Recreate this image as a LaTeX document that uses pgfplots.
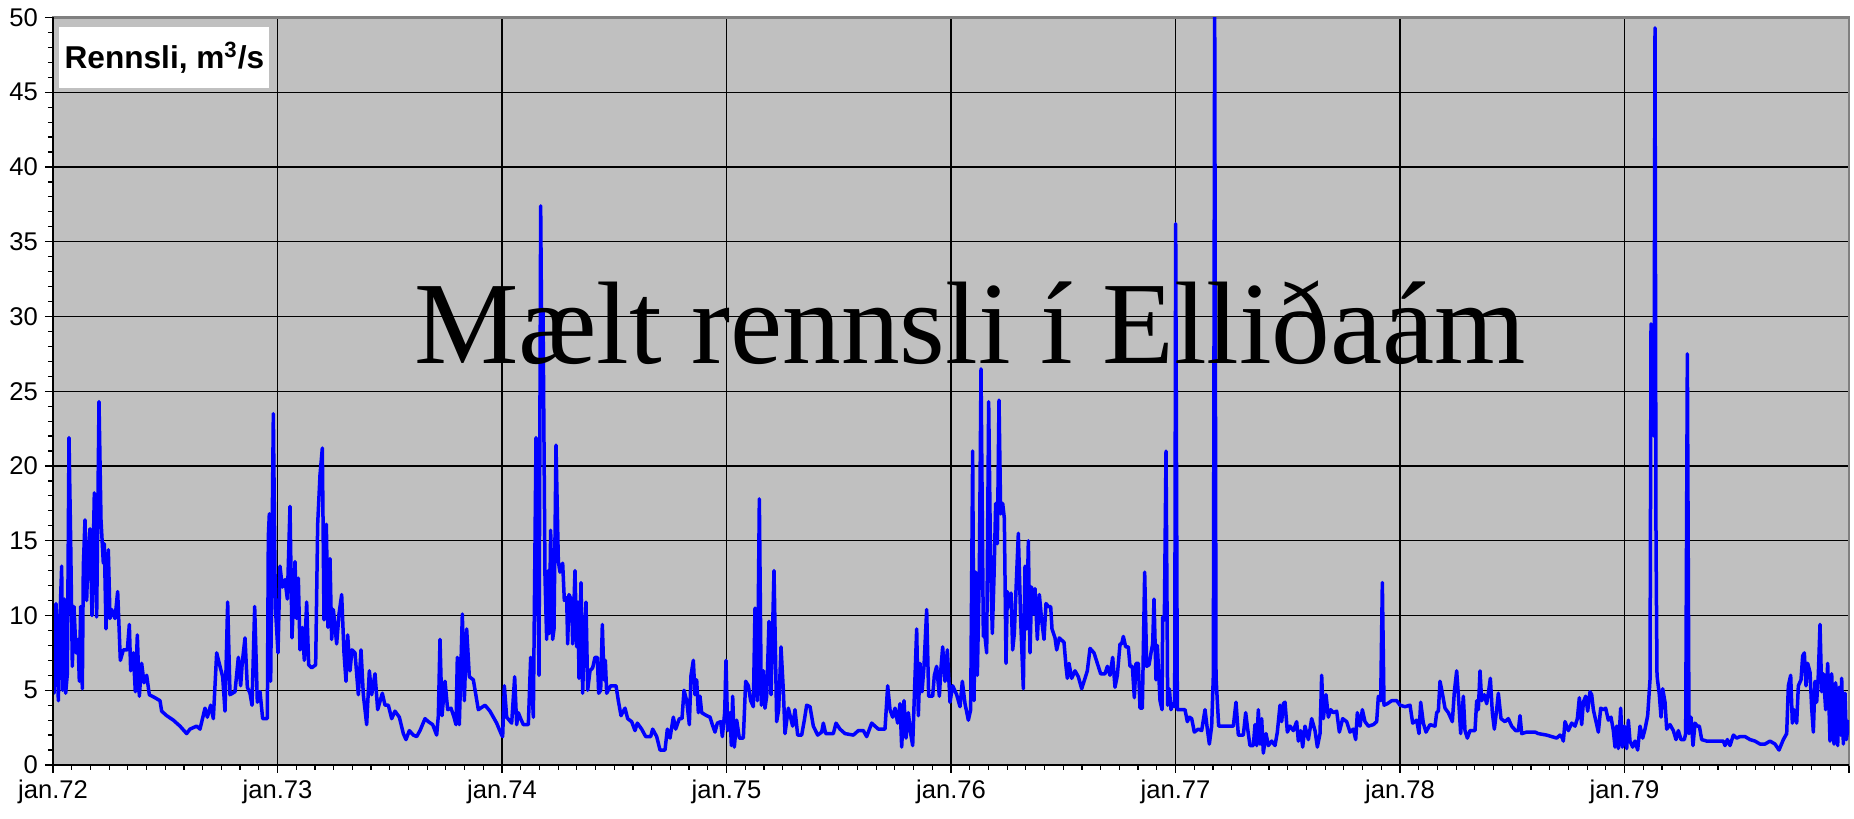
\documentclass[border=0pt]{standalone}
\usepackage{pgfplots}
\pgfplotsset{compat=1.18}
\usepackage{fontspec}
\setmainfont{Liberation Sans}
\newfontfamily\titlefont{Liberation Serif}
\definecolor{bg}{RGB}{192,192,192}
\definecolor{bordergray}{RGB}{128,128,128}
\begin{document}
\begin{tikzpicture}
\begin{axis}[
 name=ax,
 scale only axis, width=898pt, height=373.75pt,
 xmin=9, xmax=5397, ymin=0, ymax=50,
 axis background/.style={fill=bg},
 axis line style={bordergray, line width=1.2pt},
 xtick={9,682.5,1356,2029.5,2703,3376.5,4050,4723.5,5397},
 xticklabels={jan.72,jan.73,jan.74,jan.75,jan.76,jan.77,jan.78,jan.79,},
 minor x tick num=11,
 ytick={0,5,...,50},
 minor y tick num=4,
 tick align=outside,
 xtick pos=bottom, ytick pos=left,
 major tick length=4pt, minor tick length=2.5pt,
 tick style={black, line width=0.6pt},
 grid=major,
 major grid style={black, line width=0.6pt},
 ticklabel style={font=\fontsize{12.8}{14}\selectfont, black},
 /pgf/number format/assume math mode=true,
 clip mode=individual,
]
\addplot[color=blue, mark=none, line width=1.75pt, line join=round] coordinates {
(9,9.9)(12,4.8)(18,10.8)(25,4.3)(30,9.9)(35,13.3)(38,5.0)(43,11.1)(47,4.8)(52,6.1)
(57,21.9)(62,15.0)(67,6.6)(72,10.6)(78,7.5)(84,8.4)(88,5.6)(92,10.6)(97,5.1)(100,13.3)
(105,16.4)(110,11.0)(113,13.3)(120,15.8)(126,10.0)(133,18.2)(140,9.9)(147,24.3)(153,16.4)(160,13.5)
(163,14.8)(168,9.1)(175,14.4)(180,9.8)(185,10.4)(195,9.8)(203,11.6)(211,7.0)(220,7.7)(232,7.7)
(238,9.4)(242,6.3)(250,7.5)(256,4.9)(262,8.7)(268,4.6)(275,6.8)(282,5.5)(290,6.0)(298,4.7)
(315,4.5)(330,4.3)(335,3.6)(350,3.3)(370,3.0)(390,2.6)(410,2.1)(420,2.4)(440,2.6)(450,2.4)
(465,3.8)(472,3.2)(482,4.0)(490,3.1)(500,7.5)(510,6.6)(518,5.9)(525,3.6)(533,10.9)(540,4.7)
(555,4.9)(565,7.2)(572,5.3)(577,6.9)(585,8.5)(592,5.2)(600,4.8)(606,4.0)(614,10.6)(622,4.2)
(630,4.9)(638,3.1)(652,3.1)(655,15.3)(658,16.8)(662,5.6)(670,23.5)(676,10.6)(684,7.5)(690,13.3)
(697,11.9)(705,12.4)(712,11.1)(720,17.3)(726,8.5)(735,13.6)(740,9.8)(745,12.5)(750,7.7)(757,9.2)
(763,7.0)(770,10.9)(776,6.7)(785,6.5)(797,6.7)(803,16.1)(810,19.4)(817,21.2)(822,9.7)(829,16.1)
(834,9.2)(840,13.8)(845,8.4)(850,10.4)(860,8.1)(867,10.1)(875,11.4)(882,7.5)(888,5.6)(893,8.7)
(900,6.3)(906,7.7)(915,7.5)(925,4.7)(933,7.7)(940,4.7)(950,2.7)(958,6.3)(965,4.7)(975,6.1)
(983,3.7)(997,4.8)(1005,4.0)(1015,4.0)(1025,3.1)(1035,3.6)(1048,3.2)(1060,2.1)(1068,1.7)(1078,2.3)
(1090,2.0)(1100,1.9)(1110,2.3)(1125,3.1)(1135,2.9)(1148,2.7)(1160,2.0)(1165,3.3)(1170,8.4)(1176,3.3)
(1185,5.6)(1193,3.7)(1203,3.8)(1212,3.2)(1218,2.7)(1222,7.2)(1228,2.7)(1237,10.1)(1243,4.3)(1250,9.1)
(1258,5.9)(1270,5.7)(1285,3.7)(1305,4.0)(1320,3.6)(1340,2.8)(1355,2.0)
(1358,1.9)(1363,5.3)(1370,3.2)(1385,2.8)(1394,5.9)(1400,2.7)(1405,3.5)(1412,3.1)(1420,2.7)(1435,2.7)
(1442,7.2)(1450,3.2)(1458,21.9)(1467,6.0)(1472,37.4)(1476,26.0)(1479,30.5)(1485,12.6)(1490,8.4)(1495,13.0)
(1498,8.8)(1502,15.7)(1508,8.4)(1512,9.1)(1518,21.4)(1525,13.6)(1530,12.9)(1538,13.5)(1543,11.0)(1550,11.2)
(1553,8.1)(1557,11.4)(1565,11.0)(1568,8.1)(1575,13.0)(1580,7.9)(1584,10.9)(1587,5.8)(1593,12.2)(1598,4.8)
(1602,8.1)(1608,10.9)(1613,5.0)(1620,6.3)(1628,6.5)(1635,7.2)(1642,7.2)(1646,4.8)(1652,5.0)(1657,9.4)
(1662,5.7)(1666,7.0)(1670,4.8)(1682,5.3)(1698,5.3)(1705,4.3)(1713,3.3)(1725,3.8)(1733,3.1)(1745,2.9)
(1755,2.3)(1762,2.8)(1775,2.4)(1787,1.9)(1802,1.9)(1808,2.4)(1820,1.9)(1830,1.0)(1845,1.0)(1852,2.4)
(1860,1.8)(1870,3.2)(1877,2.4)(1888,3.1)(1896,3.1)(1902,5.0)(1910,4.3)(1918,2.7)(1923,6.0)(1930,7.0)
(1935,4.7)(1940,5.7)(1945,3.5)(1950,4.6)(1955,3.5)(1970,3.3)(1980,3.2)(1987,2.7)(1995,2.2)(2002,2.8)
(2012,2.9)(2017,1.9)(2024,3.5)(2028,7.0)(2033,2.3)(2040,3.5)(2044,1.3)(2048,4.6)(2053,1.2)(2060,3.0)
(2068,1.8)(2080,1.8)(2087,5.6)(2095,5.3)(2102,4.3)(2110,3.9)(2115,10.5)(2122,4.3)(2128,17.8)(2134,4.0)
(2140,6.3)(2145,3.8)(2150,4.6)(2157,9.6)(2163,4.7)(2172,13.0)(2180,2.9)(2186,3.7)(2193,7.9)(2200,5.0)
(2205,2.1)(2215,3.8)(2228,2.6)(2235,3.7)(2243,2.0)(2255,2.0)(2263,3.0)(2270,4.0)(2280,3.9)(2290,2.6)
(2303,2.0)(2315,2.2)(2320,2.8)(2327,2.1)(2350,2.1)(2358,2.8)(2370,2.4)(2385,2.1)(2410,2.0)(2425,2.3)
(2440,2.3)(2450,1.9)(2465,2.8)(2485,2.4)(2505,2.4)(2513,5.3)(2520,3.7)(2528,3.2)(2535,3.8)(2543,2.8)
(2550,4.1)(2555,1.2)(2562,4.3)(2568,1.8)(2575,3.5)(2582,2.1)(2588,1.3)(2593,4.6)(2600,9.1)(2605,3.3)
(2610,6.8)(2616,4.9)(2622,6.6)(2630,10.4)(2636,4.6)(2648,4.6)(2653,6.0)(2660,6.6)(2668,4.6)(2673,6.5)
(2678,7.9)(2685,5.6)(2692,7.7)(2700,4.2)(2708,5.3)(2720,4.7)(2730,3.9)
(2737,5.6)(2745,4.1)(2755,3.0)(2762,3.7)(2768,21.0)(2772,4.3)(2777,12.9)(2782,6.0)(2788,12.9)(2793,26.5)
(2800,8.6)(2805,8.6)(2810,7.5)(2816,24.3)(2822,13.0)(2827,8.8)(2832,12.6)(2837,17.5)(2842,14.8)(2847,24.4)
(2852,16.8)(2858,17.5)(2863,16.5)(2868,6.8)(2872,11.6)(2878,10.6)(2883,11.5)(2888,7.7)(2893,8.8)(2898,11.7)
(2905,15.5)(2912,9.7)(2920,5.1)(2925,13.3)(2930,9.1)(2935,15.0)(2940,7.5)(2945,11.9)(2950,10.1)(2955,11.8)
(2962,8.4)(2968,11.4)(2975,9.7)(2982,8.4)(2988,10.8)(2995,10.6)(3002,10.6)(3006,9.1)(3015,8.5)(3020,7.7)
(3028,8.5)(3042,8.2)(3048,6.6)(3052,5.8)(3057,6.8)(3065,5.8)(3075,6.3)(3085,5.9)(3095,5.1)(3105,5.8)
(3112,6.3)(3120,7.8)(3132,7.5)(3142,6.8)(3152,6.1)(3165,6.1)(3172,6.6)(3180,6.0)(3188,7.2)(3195,5.2)
(3202,6.0)(3210,8.1)(3215,8.1)(3220,8.6)(3227,7.9)(3235,7.9)(3240,6.6)(3247,6.6)(3253,4.5)(3258,6.8)
(3265,6.8)(3270,3.8)(3277,3.8)(3284,12.9)(3290,6.6)(3297,6.7)(3303,7.5)(3308,8.1)(3312,11.1)(3318,5.7)
(3322,8.0)(3330,4.3)(3336,3.7)(3338,9.9)(3343,9.7)(3348,21.0)(3353,4.0)(3358,5.1)(3363,3.7)(3368,4.1)
(3374,3.9)(3377,36.2)(3382,3.7)(3395,3.7)(3405,3.7)(3412,2.9)(3418,3.2)(3425,3.1)(3433,2.2)(3445,2.4)
(3455,2.3)(3465,3.7)(3472,2.4)(3478,1.4)(3485,2.6)(3490,6.0)(3494,51)(3498,5.9)(3506,2.6)(3550,2.6)
(3558,4.2)(3565,2.0)(3580,2.0)(3587,3.5)(3593,2.4)(3600,1.3)(3610,1.3)(3615,2.7)(3620,1.3)(3625,3.7)
(3630,1.4)(3635,3.1)(3640,0.8)(3648,2.1)(3655,1.3)(3665,1.6)(3675,1.3)(3682,2.2)(3690,4.0)(3695,2.9)
(3700,4.1)(3705,4.2)(3712,2.2)(3720,2.6)(3730,2.3)(3740,2.9)(3745,1.6)(3752,2.3)(3758,1.2)(3765,2.6)
(3775,1.7)(3785,3.1)(3795,2.3)(3802,1.2)(3810,2.1)(3815,6.0)(3820,3.1)(3828,4.7)(3835,3.2)(3842,3.7)
(3850,3.5)(3860,3.6)(3868,2.2)(3878,3.1)(3890,2.9)(3900,2.2)(3910,2.4)(3917,1.7)(3922,3.5)(3930,2.6)
(3937,3.7)(3945,2.9)(3955,2.6)(3970,2.7)(3980,2.9)(3985,4.6)(3992,4.3)(3997,12.2)(4002,4.0)(4012,4.1)
(4025,4.3)(4040,4.3)(4050,4.0)(4065,3.9)(4080,4.0)
(4088,2.8)(4100,3.0)(4107,2.1)(4112,4.2)(4120,2.8)(4128,2.2)(4140,2.7)(4155,2.6)(4160,3.5)(4165,3.6)
(4170,5.6)(4177,4.8)(4185,3.8)(4195,3.5)(4207,2.9)(4213,4.9)(4220,6.3)(4225,4.7)(4232,2.1)(4240,4.6)
(4245,2.3)(4252,1.8)(4260,2.3)(4275,2.3)(4280,4.3)(4285,3.7)(4290,6.3)(4295,4.3)(4303,4.7)(4310,4.1)
(4315,4.8)(4321,5.8)(4327,3.5)(4333,2.4)(4340,3.7)(4345,4.8)(4353,3.1)(4365,2.9)(4375,3.1)(4385,2.6)
(4397,2.3)(4405,2.3)(4410,3.3)(4415,2.1)(4430,2.2)(4455,2.2)(4465,2.1)(4490,2.0)(4505,1.9)(4520,1.8)
(4530,2.0)(4537,1.8)(4540,1.6)(4545,2.9)(4555,2.3)(4565,2.8)(4575,2.6)(4582,3.1)(4588,4.5)(4595,2.7)
(4600,4.2)(4607,4.6)(4613,3.6)(4620,4.9)(4625,4.7)(4630,3.7)(4637,3.0)(4645,2.2)(4652,3.8)(4660,3.7)
(4667,3.8)(4675,3.0)(4683,3.2)(4690,2.3)(4695,1.2)(4700,2.6)(4705,1.1)(4712,3.8)(4717,1.2)(4723,2.6)
(4730,1.1)(4735,3.0)(4740,1.6)(4748,1.2)(4755,1.6)(4763,1.0)(4770,2.6)(4778,1.8)(4785,2.4)(4793,3.3)
(4800,5.7)(4803,29.5)(4806,25)(4809,29)(4812,22)(4815,49.3)(4818,15)(4821,6.0)(4823,5.6)(4828,4.7)
(4833,3.2)(4838,5.1)(4845,4.2)(4850,2.4)(4860,2.7)(4870,2.3)(4878,1.7)(4885,2.3)(4893,1.7)(4903,1.7)
(4907,2.1)(4912,27.5)(4917,2.1)(4923,3.2)(4929,1.3)(4935,2.8)(4942,2.6)(4948,2.6)(4955,1.7)(4970,1.6)
(5005,1.6)(5020,1.6)(5025,1.3)(5032,1.7)(5040,1.3)(5050,2.0)(5060,1.8)(5070,1.9)(5085,1.9)(5100,1.7)
(5115,1.6)(5130,1.4)(5145,1.4)(5160,1.6)(5175,1.4)(5187,1.0)(5200,1.7)(5210,2.1)(5215,5.3)(5222,6.0)
(5227,2.8)(5232,3.7)(5240,2.8)(5245,5.3)(5253,5.7)(5258,7.3)(5263,7.5)(5268,5.3)(5273,6.8)(5280,6.2)
(5285,3.8)(5290,2.2)(5295,5.6)(5300,4.2)(5305,6.1)(5310,9.4)(5315,4.9)(5320,6.1)(5327,3.7)(5333,6.8)
(5340,1.6)(5345,6.1)(5352,1.4)(5357,5.5)(5363,1.3)(5367,5.2)(5372,2.0)(5375,5.8)(5380,1.4)(5385,4.8)
(5389,1.7)(5397,3.0)
};
\draw[black, line width=0.9pt] (rel axis cs:0,1) -- (rel axis cs:0,0) -- (rel axis cs:1,0);
\node[fill=white, anchor=north west, minimum width=105pt, minimum height=30.5pt, inner sep=0pt,
  font=\bfseries\fontsize{15.8}{18}\selectfont] at ([xshift=3pt,yshift=-4.75pt]rel axis cs:0,1) {Rennsli, m\textsuperscript{3}/s};
\node[anchor=base, inner sep=0pt, font=\titlefont\fontsize{58.7}{66}\selectfont] at (rel axis cs:0.5106,0.537) {Mælt rennsli í Elliðaám};
\end{axis}
\pgfresetboundingbox
\path ([xshift=-26.5pt,yshift=-27pt]ax.south west) rectangle ([xshift=2.5pt,yshift=8.75pt]ax.north east);
\end{tikzpicture}
\end{document}
